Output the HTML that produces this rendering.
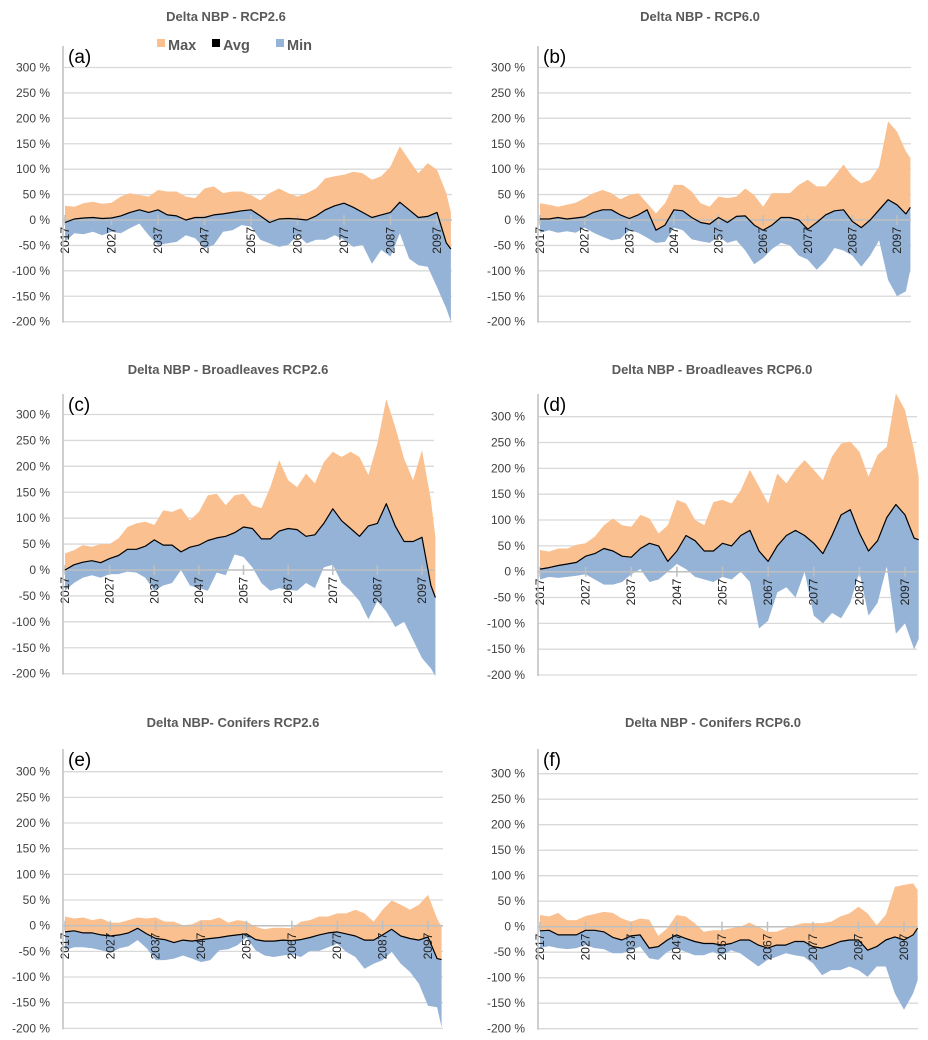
<!DOCTYPE html>
<html><head><meta charset="utf-8"><style>
html,body{margin:0;padding:0;background:#fff;}
svg{display:block;font-family:"Liberation Sans",sans-serif;}
.t{font-weight:bold;font-size:13px;fill:#595959;}
.yl{font-size:12px;fill:#404040;}
.xl{font-size:12px;fill:#222;}
.pl{font-size:19px;fill:#000;}
</style></head><body>
<svg id="chart" width="928" height="1040" viewBox="0 0 928 1040"></svg>
<script>
const years = [2017,2019,2021,2023,2025,2027,2029,2031,2033,2035,2037,2039,2041,2043,2045,2047,2049,2051,2053,2055,2057,2059,2061,2063,2065,2067,2069,2071,2073,2075,2077,2079,2081,2083,2085,2087,2089,2091,2093,2095,2097,2099,2100];
const yTicks = [300,250,200,150,100,50,0,-50,-100,-150,-200];
const xTickYears = [2017,2027,2037,2047,2057,2067,2077,2087,2097];

const maxA = [28,26,33,36,32,34,46,53,49,46,59,56,56,46,43,62,66,53,56,56,49,39,53,62,53,46,53,62,82,86,89,95,92,79,86,105,145,118,92,112,99,53,15];
const avgA = [-5,2,4,5,3,4,8,15,20,15,20,10,8,0,5,5,10,12,15,18,20,8,-5,2,3,2,0,8,20,28,33,25,15,5,10,15,35,20,5,7,15,-45,-57];
const minA = [-43,-26,-28,-23,-30,-23,-26,-16,-7,-30,-49,-46,-43,-30,-36,-56,-49,-23,-20,-10,-13,-39,-46,-53,-49,-30,-46,-39,-39,-30,-39,-53,-49,-86,-59,-72,-26,-76,-89,-92,-132,-174,-200];

const maxB = [33,30,26,30,34,43,53,59,53,41,49,53,33,13,33,69,69,56,33,26,46,43,46,62,49,26,53,53,53,69,79,66,66,86,109,86,72,79,105,194,174,135,122];
const avgB = [2,2,5,2,4,6,15,20,20,10,3,10,20,-20,-10,20,18,5,-5,-8,5,-5,7,8,-10,-20,-10,5,5,0,-18,-5,10,18,20,-3,-15,0,20,40,30,12,25];
const minB = [-25,-20,-25,-22,-25,-15,-25,-33,-40,-37,-20,-25,-35,-45,-43,-15,-20,-38,-42,-45,-33,-45,-40,-60,-87,-75,-57,-45,-50,-70,-78,-98,-80,-55,-60,-70,-92,-70,-40,-118,-150,-140,-97];

const maxC = [32,38,48,45,50,50,61,83,90,93,87,115,112,119,96,112,144,147,125,144,147,125,119,160,212,173,160,186,167,208,228,218,228,218,183,244,330,276,215,173,231,135,64];
const avgC = [0,10,15,18,14,22,28,40,40,46,58,48,48,35,44,48,57,62,65,72,83,80,60,60,75,80,78,65,68,90,118,95,80,65,85,90,128,85,55,55,63,-30,-53];
const minC = [-40,-25,-15,-10,-15,-8,-8,-3,-5,-15,-40,-30,-25,0,-30,-35,-40,-5,-10,30,25,5,-25,-40,-35,-38,-40,-25,-35,5,10,-25,-40,-60,-95,-60,-80,-110,-100,-135,-170,-190,-205];

const maxD = [42,39,45,45,52,55,68,90,103,90,87,110,103,74,90,139,132,100,90,135,139,132,158,197,165,132,190,171,197,216,197,177,223,248,252,232,184,226,242,345,313,235,184];
const avgD = [5,8,12,15,18,30,35,45,40,30,28,45,55,50,20,40,70,60,40,40,55,50,70,80,40,20,50,70,80,70,55,35,70,110,120,75,40,60,105,130,110,65,62];
const minD = [-15,-10,-12,-10,-8,-5,-15,-25,-25,-20,-5,5,-20,-15,0,15,5,-10,-15,-20,-10,-15,0,-20,-110,-95,-40,-30,-50,0,-85,-100,-80,-90,-60,0,-85,-60,10,-120,-100,-150,-130];

const maxE = [18,14,16,11,14,6,6,11,16,14,16,8,8,1,3,11,11,16,6,11,8,-2,-7,-4,-4,-5,8,11,18,18,24,24,31,24,8,31,49,41,31,41,60,14,-2];
const avgE = [-12,-10,-14,-14,-18,-20,-18,-14,-5,-16,-25,-27,-33,-28,-30,-27,-25,-23,-20,-18,-16,-27,-30,-30,-28,-29,-27,-23,-18,-14,-12,-16,-20,-28,-28,-18,-7,-20,-25,-28,-22,-64,-66];
const minE = [-48,-42,-42,-44,-48,-53,-44,-40,-28,-44,-67,-67,-64,-58,-64,-71,-67,-48,-46,-38,-23,-48,-58,-61,-58,-56,-61,-49,-49,-42,-35,-51,-61,-84,-74,-67,-51,-74,-90,-113,-156,-159,-198];

const maxF = [23,20,27,13,13,21,25,29,27,16,10,16,14,-18,-3,23,20,7,-10,-7,-7,-3,0,8,0,-10,-10,-3,3,7,7,7,10,20,26,39,26,3,23,78,82,85,72];
const avgF = [-8,-7,-16,-16,-16,-7,-7,-10,-21,-26,-18,-16,-42,-39,-26,-16,-23,-29,-33,-33,-36,-33,-26,-26,-36,-42,-36,-36,-29,-29,-39,-42,-36,-29,-26,-26,-46,-39,-26,-20,-26,-16,-3];
const minF = [-42,-38,-42,-44,-42,-36,-42,-44,-52,-52,-46,-39,-62,-65,-49,-42,-49,-56,-56,-49,-56,-46,-52,-65,-78,-65,-59,-52,-56,-59,-72,-95,-85,-85,-78,-85,-98,-78,-78,-131,-163,-131,-105];

const NS = "http://www.w3.org/2000/svg";
const svg = document.getElementById('chart');
function mk(tag, attrs, parent){
  const e = document.createElementNS(NS, tag);
  for (const k in attrs) e.setAttribute(k, attrs[k]);
  (parent||svg).appendChild(e);
  return e;
}

const panels = [
  {id:'a', title:'Delta NBP - RCP2.6', tx:226, ty:21, ax:63, x17:65, x97:437, right:452, top:46, y300:67.5, y0:220, lx:50, max:maxA, avg:avgA, min:minA, legend:true},
  {id:'b', title:'Delta NBP - RCP6.0', tx:700, ty:21, ax:538, x17:540, x97:897, right:911, top:46, y300:67.5, y0:220, lx:525, max:maxB, avg:avgB, min:minB},
  {id:'c', title:'Delta NBP - Broadleaves RCP2.6', tx:228, ty:374, ax:63, x17:65, x97:422, right:434, top:394, y300:414.5, y0:570, lx:50, max:maxC, avg:avgC, min:minC},
  {id:'d', title:'Delta NBP - Broadleaves RCP6.0', tx:712, ty:374, ax:538, x17:540, x97:905, right:917, top:394, y300:416.7, y0:571.7, lx:525, max:maxD, avg:avgD, min:minD},
  {id:'e', title:'Delta NBP- Conifers RCP2.6', tx:233, ty:727, ax:63, x17:65, x97:428, right:443, top:749, y300:771.7, y0:925.7, lx:50, max:maxE, avg:avgE, min:minE},
  {id:'f', title:'Delta NBP - Conifers RCP6.0', tx:713, ty:727, ax:538, x17:540, x97:904, right:918, top:749, y300:773.7, y0:926.7, lx:525, max:maxF, avg:avgF, min:minF}
];

panels.forEach(p => {
  const g = mk('g', {});
  
  
  const per = (p.y0 - p.y300) / 300;
  const yS = v => p.y0 - v * per;
  const xS = yr => p.x17 + (yr - 2017) * (p.x97 - p.x17) / 80;

  const t = mk('text', {x:p.tx, y:p.ty, 'text-anchor':'middle', class:'t'}, g);
  t.textContent = p.title;
  
  

  yTicks.forEach(v => {
    const y = yS(v);
    if (v !== 0) {
      const gl = mk('line', {x1:p.ax, x2:p.right, y1:y, y2:y, stroke:'#d9d9d9', 'stroke-width':1.3}, g);
      
      
    }
    const l = mk('text', {x:p.lx, y:y+4, 'text-anchor':'end', class:'yl'}, g);
    l.textContent = v + ' %';
    
    
  });

  // orange: between max and avg
  let d = '';
  years.forEach((yr,i) => { d += (i?'L':'M') + xS(yr).toFixed(1) + ',' + yS(p.max[i]).toFixed(1); });
  for (let i = years.length-1; i >= 0; i--) d += 'L' + xS(years[i]).toFixed(1) + ',' + yS(p.avg[i]).toFixed(1);
  const mx = mk('path', {d:d+'Z', fill:'#FAC090'}, g);
  
  

  d = '';
  years.forEach((yr,i) => { d += (i?'L':'M') + xS(yr).toFixed(1) + ',' + yS(p.avg[i]).toFixed(1); });
  for (let i = years.length-1; i >= 0; i--) d += 'L' + xS(years[i]).toFixed(1) + ',' + yS(p.min[i]).toFixed(1);
  const mn = mk('path', {d:d+'Z', fill:'#95B3D7'}, g);
  
  

  // zero axis
  const za = mk('line', {x1:p.ax, x2:p.right, y1:p.y0, y2:p.y0, stroke:'#bfbfbf', 'stroke-width':1.5}, g);
  
  
  xTickYears.forEach(yr => {
    const x = xS(yr);
    const tk = mk('line', {x1:x, x2:x, y1:p.y0-5, y2:p.y0+5, stroke:'#bfbfbf', 'stroke-width':1.5}, g);
    
    
  });

  // avg line
  d = '';
  years.forEach((yr,i) => { d += (i?'L':'M') + xS(yr).toFixed(1) + ',' + yS(p.avg[i]).toFixed(1); });
  const al = mk('path', {d:d, fill:'none', stroke:'#000', 'stroke-width':1.2, 'stroke-linejoin':'round'}, g);
  
  

  xTickYears.forEach(yr => {
    const x = xS(yr) + 4;
    const y = p.y0 + 7;
    const l = mk('text', {x:x, y:y, 'text-anchor':'end', class:'xl', transform:'rotate(-90 '+x+' '+y+')'}, g);
    l.textContent = yr;
    
    
  });

  const ya = mk('line', {x1:p.ax, x2:p.ax, y1:p.top, y2:yS(-200)+1, stroke:'#bfbfbf', 'stroke-width':1.5}, g);
  
  

  const pl = mk('text', {x:p.ax+5, y:p.top+17, class:'pl'}, g);
  pl.textContent = '(' + p.id + ')';
  
  

  if (p.legend) {
    const items = [['Max','#FAC090',157],['Avg','#000',212],['Min','#95B3D7',276]];
    items.forEach(it => {
      const lg = mk('g', {}, g);
      
      
      mk('rect', {x:it[2], y:39, width:8, height:8, fill:it[1]}, lg);
      const tx = mk('text', {x:it[2]+11, y:50, 'font-size':'14.5', 'font-weight':'bold', fill:'#595959'}, lg);
      tx.textContent = it[0];
    });
  }
});
</script>
</body></html>
